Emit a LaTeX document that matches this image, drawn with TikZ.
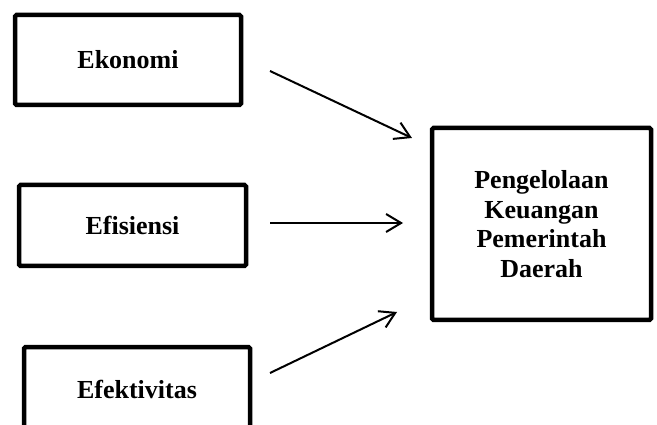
\documentclass[tikz,border=0pt]{standalone}
\usepackage{fontspec}
\setmainfont{Liberation Serif}
\usetikzlibrary{arrows.meta}

\tikzset{
  varbox/.style={draw, line width=4.5pt, rounded corners=1.5pt, inner sep=0pt,
    align=center, font=\bfseries\fontsize{26}{29.5}\selectfont},
  link/.style={line width=2pt, -{Straight Barb[length=15pt,width=18pt]}}
}

\begin{document}
\begin{tikzpicture}[x=1pt,y=-1pt]
\def\xl{128};
\def\xr{541.5};

\useasboundingbox (0,0) rectangle (657,425);

\node[varbox, minimum width=226pt, minimum height=90pt] (eko) at (\xl, 60) {Ekonomi};
\node[varbox, minimum width=227pt, minimum height=81pt] (efi) at (132.5, 225.5) {Efisiensi};
\node[varbox, minimum width=226pt, minimum height=84pt] (efe) at (137, 389) {Efektivitas};

\node[varbox, minimum width=219pt, minimum height=192pt] (pkpd) at (\xr, 224) {Pengelolaan\\Keuangan\\Pemerintah\\Daerah};

\coordinate (a1) at (270, 71);
\coordinate (b1) at (412, 138);
\coordinate (a2) at (270, 223);
\coordinate (b2) at (403, 223);
\coordinate (a3) at (270, 373);
\coordinate (b3) at (397, 312);

\draw[link] (a1) -- (b1);
\draw[link] (a2) -- (b2);
\draw[link] (a3) -- (b3);

\end{tikzpicture}
\end{document}
